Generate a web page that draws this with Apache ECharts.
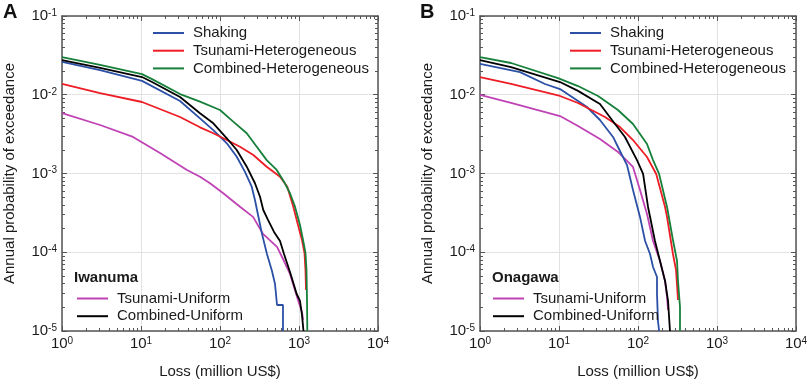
<!DOCTYPE html>
<html><head><meta charset="utf-8">
<script src="https://cdn.jsdelivr.net/npm/echarts@6.0.0/dist/echarts.min.js"></script>
<style>html,body{margin:0;padding:0;background:#fff}#c{width:809px;height:381px}</style>
</head><body><div id="c"></div>
<script>
// ---- Data (loss in million US$, annual probability of exceedance) ----
const xDecades = [1, 10, 100, 1000, 10000];
const yDecades = [1e-5, 1e-4, 1e-3, 1e-2, 1e-1];
const sites = ['Iwanuma', 'Onagawa'];
const panelLetters = ['A', 'B'];
const xName = 'Loss (million US$)';
const yName = 'Annual probability of exceedance';

const iwShaking = [[1,0.0261],[3.03,0.0206],[10.3,0.0150],[31.2,0.00833],[55.8,0.00502],[82.3,0.00356],[122,0.00242],[163,0.00163],[207,0.00105],[252,0.000679],[277,0.000461],[303,0.000297],[340,0.000171],[393,0.000095],[455,0.0000578],[497,0.0000395],[527,0.0000214],[627,0.0000214],[627,0.00001]];
const iwTsunamiHet = [[1,0.0137],[3.03,0.0105],[10.3,0.00809],[31.2,0.00522],[55.8,0.00386],[82.3,0.00324],[122,0.00266],[179,0.00219],[264,0.00172],[390,0.00122],[575,0.00091],[711,0.000679],[847,0.000379],[971,0.000222],[1091,0.000143],[1174,0.0000978],[1208,0.0000595],[1227,0.0000332]];
const iwCombinedHet = [[1,0.0301],[3.03,0.0240],[10.3,0.0183],[13.8,0.0158],[31.2,0.0102],[55.8,0.00817],[100,0.0064],[147,0.00455],[218,0.00324],[292,0.00219],[390,0.00148],[522,0.00111],[646,0.000787],[769,0.000561],[890,0.000379],[1029,0.000222],[1125,0.000143],[1208,0.0000978],[1244,0.0000595],[1263,0.0000248],[1274,0.00001]];
const iwTsunamiUni = [[1,0.00586],[3.03,0.00413],[7.92,0.00291],[17.4,0.00182],[38.2,0.00111],[55.8,0.00091],[74.7,0.000752],[110,0.000561],[179,0.000379],[262,0.000281],[350,0.000171],[527,0.000117],[646,0.0000774],[769,0.000053],[971,0.0000248],[1091,0.0000174],[1125,0.0000138]];
const iwCombinedUni = [[1,0.0276],[3.03,0.0219],[10.3,0.0168],[13.8,0.0145],[31.2,0.00936],[55.8,0.00581],[82.3,0.00434],[122,0.0028],[163,0.00199],[218,0.00122],[277,0.000752],[321,0.000507],[353,0.000344],[405,0.000257],[483,0.000181],[575,0.000139],[646,0.000095],[769,0.0000561],[935,0.0000295],[1029,0.0000241],[1091,0.000016],[1140,0.00001]];

const onShaking = [[1,0.0246],[3.21,0.0194],[6.65,0.0137],[10.3,0.0118],[17.4,0.00833],[22.6,0.00699],[33.0,0.00478],[48.3,0.00291],[55.8,0.00217],[72.6,0.00128],[86.4,0.000617],[106,0.000281],[123,0.000139],[142,0.000095],[155,0.000065],[174,0.0000485],[174,0.0000295],[179,0.0000134],[185,0.00001]];
const onTsunamiHet = [[1,0.0168],[2.47,0.0137],[10.3,0.00965],[17.4,0.00786],[38.2,0.00522],[59.2,0.00389],[86.4,0.00266],[130,0.00162],[170,0.000986],[220,0.000376],[233,0.000281],[277,0.000095],[303,0.0000595],[321,0.0000248]];
const onCombinedHet = [[1,0.0301],[2.47,0.0253],[9.71,0.0163],[17.4,0.0129],[31.2,0.00965],[55.8,0.0064],[86.4,0.00425],[130,0.00237],[155,0.00148],[185,0.000986],[233,0.000376],[277,0.000143],[312,0.0000774],[321,0.0000432],[340,0.0000202],[340,0.00001]];
const onTsunamiUni = [[1,0.00993],[2.47,0.00786],[10.3,0.00537],[17.4,0.00401],[33.0,0.00274],[55.8,0.00188],[86.4,0.00121],[106,0.000617],[130,0.000306],[155,0.000139],[190,0.0000774],[220,0.0000432],[233,0.000027],[240,0.0000185]];
const onCombinedUni = [[1,0.0276],[2.47,0.0225],[10.3,0.0145],[17.4,0.0112],[33.0,0.00763],[46.9,0.00478],[68.4,0.00291],[97.1,0.00148],[116,0.000986],[134,0.000376],[164,0.000139],[190,0.0000774],[220,0.0000432],[240,0.0000241],[254,0.00001]];

// ---- Styling ----
const FONT = 'Liberation Sans, Arial, Helvetica, sans-serif';
const AX = '#555';
const colors = {
  'Shaking': '#2b50a6',
  'Tsunami-Heterogeneous': '#ee1c24',
  'Combined-Heterogeneous': '#16803a',
  'Tsunami-Uniform': '#c043b6',
  'Combined-Uniform': '#000000'
};
const panelData = [
  {'Shaking': iwShaking, 'Tsunami-Heterogeneous': iwTsunamiHet, 'Combined-Heterogeneous': iwCombinedHet, 'Tsunami-Uniform': iwTsunamiUni, 'Combined-Uniform': iwCombinedUni},
  {'Shaking': onShaking, 'Tsunami-Heterogeneous': onTsunamiHet, 'Combined-Heterogeneous': onCombinedHet, 'Tsunami-Uniform': onTsunamiUni, 'Combined-Uniform': onCombinedUni}
];
const drawOrder = ['Tsunami-Uniform','Shaking','Tsunami-Heterogeneous','Combined-Uniform','Combined-Heterogeneous'];

function minorOf(decades) {
  const out = [];
  for (let i = 0; i < decades.length - 1; i++) {
    for (let k = 2; k <= 9; k++) out.push(+(decades[i] * k).toPrecision(3));
  }
  return out;
}
const xMinor = minorOf(xDecades);
const yMinor = minorOf(yDecades);

const supFmt = v => '{b|10}{s|' + Math.round(Math.log10(v)) + '}';
const labelRich = {
  b: {fontSize: 15, fontFamily: FONT, color: '#1a1a1a', lineHeight: 16},
  s: {fontSize: 10, fontFamily: FONT, color: '#1a1a1a', lineHeight: 10, verticalAlign: 'top'}
};

const grids = [
  {left: 62, right: 431, top: 16, bottom: 50, outerBoundsMode: 'none', containLabel: false},
  {left: 480, right: 13, top: 16, bottom: 50, outerBoundsMode: 'none', containLabel: false}
];
const xAxes = [], yAxes = [], series = [], legends = [], titles = [];

grids.forEach((g, p) => {
  const xb = {type: 'log', logBase: 10, gridIndex: p, min: xDecades[0], max: xDecades[xDecades.length-1]};
  const yb = {type: 'log', logBase: 10, gridIndex: p, min: yDecades[0], max: yDecades[yDecades.length-1]};
  xAxes.push(Object.assign({}, xb, {
    position: 'bottom',
    axisLine: {show: true, onZero: false, lineStyle: {color: AX, width: 1.5}},
    axisTick: {show: true, inside: true, length: 5, customValues: xDecades, lineStyle: {color: AX}},
    axisLabel: {show: true, customValues: xDecades, formatter: supFmt, rich: labelRich, margin: 5},
    splitLine: {show: true, lineStyle: {color: '#e2e2e2', width: 1}},
    name: xName, nameLocation: 'middle', nameGap: 33,
    nameTextStyle: {fontSize: 15, fontFamily: FONT, color: '#1a1a1a'}
  }));
  xAxes.push(Object.assign({}, xb, {
    position: 'bottom',
    axisLine: {show: false},
    axisTick: {show: true, inside: true, length: 3, customValues: xMinor, lineStyle: {color: AX}},
    axisLabel: {show: false}, splitLine: {show: false}
  }));
  xAxes.push(Object.assign({}, xb, {
    position: 'top',
    axisLine: {show: true, onZero: false, lineStyle: {color: AX, width: 1.5}},
    axisTick: {show: true, inside: true, length: 5, customValues: xDecades, lineStyle: {color: AX}},
    axisLabel: {show: false}, splitLine: {show: false}
  }));
  xAxes.push(Object.assign({}, xb, {
    position: 'top',
    axisLine: {show: false},
    axisTick: {show: true, inside: true, length: 3, customValues: xMinor, lineStyle: {color: AX}},
    axisLabel: {show: false}, splitLine: {show: false}
  }));
  yAxes.push(Object.assign({}, yb, {
    position: 'left',
    axisLine: {show: true, onZero: false, lineStyle: {color: AX, width: 1.5}},
    axisTick: {show: true, inside: true, length: 5, customValues: yDecades, lineStyle: {color: AX}},
    axisLabel: {show: true, customValues: yDecades, formatter: supFmt, rich: labelRich, margin: 5},
    splitLine: {show: true, lineStyle: {color: '#e2e2e2', width: 1}},
    name: yName, nameLocation: 'middle', nameGap: 45, nameRotate: 90,
    nameTextStyle: {fontSize: 15, fontFamily: FONT, color: '#1a1a1a'}
  }));
  yAxes.push(Object.assign({}, yb, {
    position: 'left',
    axisLine: {show: false},
    axisTick: {show: true, inside: true, length: 3, customValues: yMinor, lineStyle: {color: AX}},
    axisLabel: {show: false}, splitLine: {show: false}
  }));
  yAxes.push(Object.assign({}, yb, {
    position: 'right',
    axisLine: {show: true, onZero: false, lineStyle: {color: AX, width: 1.5}},
    axisTick: {show: true, inside: true, length: 5, customValues: yDecades, lineStyle: {color: AX}},
    axisLabel: {show: false}, splitLine: {show: false}
  }));
  yAxes.push(Object.assign({}, yb, {
    position: 'right',
    axisLine: {show: false},
    axisTick: {show: true, inside: true, length: 3, customValues: yMinor, lineStyle: {color: AX}},
    axisLabel: {show: false}, splitLine: {show: false}
  }));

  drawOrder.forEach(n => {
    series.push({
      type: 'line', name: n, xAxisIndex: 4*p, yAxisIndex: 4*p,
      data: panelData[p][n], showSymbol: false, symbol: 'none', smooth: false,
      lineStyle: {color: colors[n], width: 1.8}, itemStyle: {color: colors[n]},
      emphasis: {disabled: true}, animation: false, clip: true
    });
  });

  const legendCommon = {
    orient: 'vertical', icon: 'rect', itemWidth: 31, itemHeight: 2, itemGap: 2.7,
    padding: 0, selectedMode: false,
    textStyle: {fontSize: 15, fontFamily: FONT, color: '#1a1a1a', lineHeight: 15, padding: [0,0,0,4]}
  };
  legends.push(Object.assign({}, legendCommon, {
    left: p === 0 ? 153 : 570, top: 25.5,
    data: ['Shaking','Tsunami-Heterogeneous','Combined-Heterogeneous']
  }));
  legends.push(Object.assign({}, legendCommon, {
    left: p === 0 ? 77 : 493, top: 291,
    data: ['Tsunami-Uniform','Combined-Uniform']
  }));
  titles.push({
    text: sites[p], left: p === 0 ? 74 : 492, top: 269.5, padding: 0,
    textStyle: {fontSize: 15, fontWeight: 'bold', fontFamily: FONT, color: '#1a1a1a', lineHeight: 16}
  });
  titles.push({
    text: panelLetters[p], left: p === 0 ? 3 : 420, top: 2, padding: 0,
    textStyle: {fontSize: 20, fontWeight: 'bold', fontFamily: FONT, color: '#111', lineHeight: 20}
  });
});

const chart = echarts.init(document.getElementById('c'), null, {renderer: 'canvas'});
chart.setOption({
  animation: false,
  backgroundColor: '#ffffff',
  title: titles,
  legend: legends,
  grid: grids,
  xAxis: xAxes,
  yAxis: yAxes,
  series: series
});
</script>
</body></html>
